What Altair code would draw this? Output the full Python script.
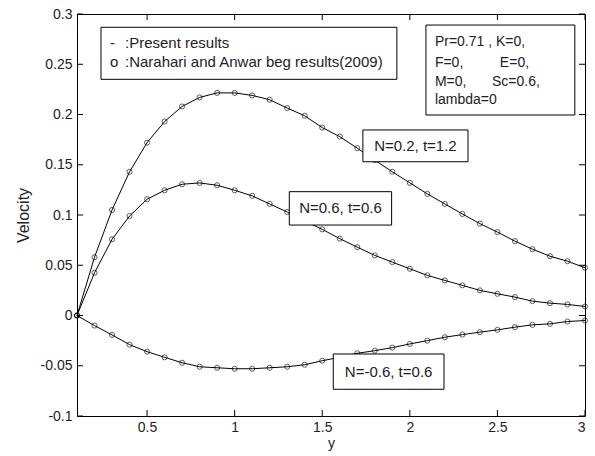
import altair as alt
import pandas as pd

# ---- data ----
x_vals = [0.1, 0.2, 0.3, 0.4, 0.5, 0.6, 0.7, 0.8, 0.9, 1.0,
          1.1, 1.2, 1.3, 1.4, 1.5, 1.6, 1.7, 1.8, 1.9, 2.0,
          2.1, 2.2, 2.3, 2.4, 2.5, 2.6, 2.7, 2.8, 2.9, 3.0]

v_n02_t12 = [0, 0.058, 0.105, 0.143, 0.172, 0.193, 0.208, 0.217, 0.2215, 0.2215,
             0.219, 0.2147, 0.2064, 0.1987, 0.187, 0.178, 0.1665, 0.1545, 0.143, 0.132,
             0.121, 0.111, 0.101, 0.0914, 0.083, 0.074, 0.066, 0.059, 0.054, 0.0475]

v_n06_t06 = [0, 0.0425, 0.0758, 0.099, 0.1157, 0.1246, 0.1306, 0.1319, 0.1296, 0.1246,
             0.119, 0.111, 0.103, 0.094, 0.0857, 0.0765, 0.068, 0.0598, 0.0531, 0.0465,
             0.0399, 0.0349, 0.030, 0.025, 0.0216, 0.0183, 0.0143, 0.0123, 0.011, 0.009]

v_nm06_t06 = [0, -0.010, -0.0193, -0.029, -0.036, -0.0416, -0.047, -0.051, -0.052, -0.053,
              -0.053, -0.052, -0.051, -0.049, -0.045, -0.0416, -0.0376, -0.035, -0.032, -0.0283,
              -0.025, -0.0216, -0.019, -0.0166, -0.0143, -0.0116, -0.0093, -0.0083, -0.006, -0.005]

series_names = ["N=0.2, t=1.2", "N=0.6, t=0.6", "N=-0.6, t=0.6"]

x_ticks = [0.5, 1, 1.5, 2, 2.5, 3]
y_ticks = [-0.1, -0.05, 0, 0.05, 0.1, 0.15, 0.2, 0.25, 0.3]

# annotation boxes (data coordinates): legend, parameters, three curve labels
box_x1 = [0.237, 2.092, 1.732, 1.312, 1.563]
box_x2 = [1.926, 2.942, 2.332, 1.896, 2.195]
box_y1 = [0.2868, 0.289, 0.1846, 0.1232, -0.0383]
box_y2 = [0.235, 0.1995, 0.153, 0.090, -0.0734]

# legend texts
leg_txt = ["-", ":Present results", "o", ":Narahari and Anwar beg results(2009)"]
leg_x = [0.288, 0.374, 0.288, 0.374]
leg_y = [0.2708, 0.2708, 0.2525, 0.2525]

# parameter texts
par_txt = ["Pr=0.71 , K=0,", "F=0,", "E=0,", "M=0,", "Sc=0.6,", "lambda=0"]
par_x = [2.143, 2.143, 2.514, 2.143, 2.469, 2.143]
par_y = [0.2724, 0.2515, 0.2515, 0.2326, 0.2326, 0.2144]

# centered curve labels
lbl_x = [2.032, 1.604, 1.879]
lbl_y = [0.1687, 0.1065, -0.0559]

FONT = "Liberation Sans"
W, H = 508, 402

rows = []
for name, vals in zip(series_names, [v_n02_t12, v_n06_t06, v_nm06_t06]):
    for xv, yv in zip(x_vals, vals):
        rows.append({"x": xv, "v": yv, "series": name})
df = pd.DataFrame(rows)

xscale = alt.Scale(domain=[0.1, 3], nice=False, zero=False)
yscale = alt.Scale(domain=[-0.1, 0.3], nice=False, zero=False)

xaxis = alt.Axis(values=x_ticks, ticks=False, domain=False, grid=False,
                 labelExpr="'' + datum.value", labelFont=FONT, labelFontSize=14,
                 labelColor="#222", labelPadding=4, title="y", titleFont=FONT,
                 titleFontSize=14, titleFontWeight="normal", titleColor="#222",
                 titlePadding=2)
yaxis = alt.Axis(values=y_ticks, ticks=False, domain=False, grid=False,
                 labelExpr="'' + datum.value", labelFont=FONT, labelFontSize=14,
                 labelColor="#222", labelPadding=5, title="Velocity", titleFont=FONT,
                 titleFontSize=16, titleFontWeight="normal", titleColor="#222",
                 titlePadding=9)

base = alt.Chart(df)
lines = base.mark_line(color="black", strokeWidth=1).encode(
    x=alt.X("x:Q", scale=xscale, axis=xaxis),
    y=alt.Y("v:Q", scale=yscale, axis=yaxis),
    detail="series:N",
)
points = base.mark_point(shape="circle", filled=False, color="black",
                         size=26, strokeWidth=0.9).encode(
    x=alt.X("x:Q", scale=xscale),
    y=alt.Y("v:Q", scale=yscale),
)

boxes_df = pd.DataFrame({"x1": box_x1, "x2": box_x2, "y1": box_y1, "y2": box_y2})
boxes = alt.Chart(boxes_df).mark_rect(fill="white", stroke="black", strokeWidth=1).encode(
    x=alt.X("x1:Q", scale=xscale), x2="x2:Q",
    y=alt.Y("y1:Q", scale=yscale), y2="y2:Q",
)

leg_df = pd.DataFrame({"t": leg_txt, "x": leg_x, "y": leg_y})
leg_texts = alt.Chart(leg_df).mark_text(align="left", baseline="middle", font=FONT,
                                        fontSize=15, color="#222").encode(
    x=alt.X("x:Q", scale=xscale), y=alt.Y("y:Q", scale=yscale), text="t:N")

par_df = pd.DataFrame({"t": par_txt, "x": par_x, "y": par_y})
par_texts = alt.Chart(par_df).mark_text(align="left", baseline="middle", font=FONT,
                                        fontSize=14, color="#222").encode(
    x=alt.X("x:Q", scale=xscale), y=alt.Y("y:Q", scale=yscale), text="t:N")

lb_df = pd.DataFrame({"t": series_names, "x": lbl_x, "y": lbl_y})
labels = alt.Chart(lb_df).mark_text(align="center", baseline="middle", font=FONT,
                                    fontSize=15, color="#222").encode(
    x=alt.X("x:Q", scale=xscale), y=alt.Y("y:Q", scale=yscale), text="t:N")

xt_df = pd.DataFrame({"x": x_ticks})
yt_df = pd.DataFrame({"y": y_ticks})
TL = 6
xt_bot = alt.Chart(xt_df).mark_rule(color="black", strokeWidth=1).encode(
    x=alt.X("x:Q", scale=xscale), y=alt.value(H), y2=alt.value(H - TL))
xt_top = alt.Chart(xt_df).mark_rule(color="black", strokeWidth=1).encode(
    x=alt.X("x:Q", scale=xscale), y=alt.value(0), y2=alt.value(TL))
yt_left = alt.Chart(yt_df).mark_rule(color="black", strokeWidth=1).encode(
    y=alt.Y("y:Q", scale=yscale), x=alt.value(0), x2=alt.value(TL))
yt_right = alt.Chart(yt_df).mark_rule(color="black", strokeWidth=1).encode(
    y=alt.Y("y:Q", scale=yscale), x=alt.value(W), x2=alt.value(W - TL))

chart = alt.layer(
    lines, points, xt_bot, xt_top, yt_left, yt_right, boxes,
    leg_texts, par_texts, labels
).properties(
    width=W, height=H,
    autosize="none",
    padding={"left": 77, "top": 14, "right": 10, "bottom": 40},
    background="white",
).configure_view(stroke="black", strokeWidth=1)

chart.save("out.html", embed_options={"renderer": "svg", "actions": False})
